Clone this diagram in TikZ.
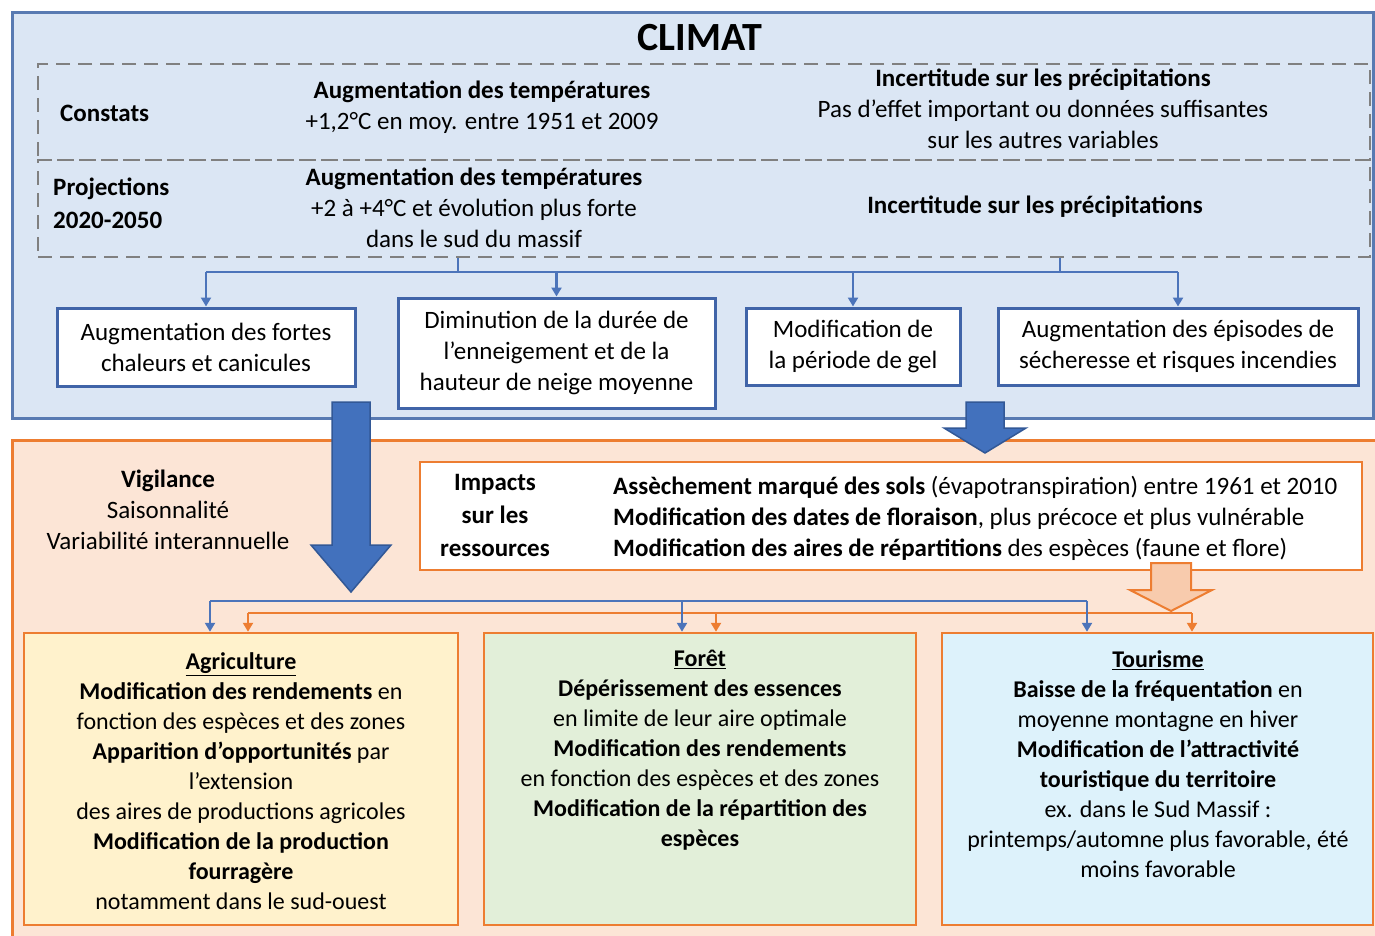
\documentclass[tikz,border=0pt]{standalone}
\usepackage{fontspec}
\setmainfont{Carlito}
\usetikzlibrary{arrows.meta}
\definecolor{bluefill}{RGB}{219,230,244}
\definecolor{blueedge}{RGB}{88,122,178}
\definecolor{boxedge}{RGB}{64,100,168}
\definecolor{arrowblue}{RGB}{66,113,189}
\definecolor{arrowedge}{RGB}{50,88,150}
\definecolor{lineblue}{RGB}{76,116,186}
\definecolor{orng}{RGB}{237,125,49}
\definecolor{peach}{RGB}{252,229,214}
\definecolor{lightorange}{RGB}{248,203,173}
\definecolor{agrifill}{RGB}{255,242,204}
\definecolor{forfill}{RGB}{226,239,217}
\definecolor{tourfill}{RGB}{221,242,251}
\definecolor{dashgray}{RGB}{128,128,128}
\begin{document}
\begin{tikzpicture}[x=1pt,y=-1pt,
  every node/.style={inner sep=0pt},
  txt/.style={font=\fontsize{25}{31}\selectfont, align=center},
  btxt/.style={font=\fontsize{24}{30}\selectfont, align=center},
  whitebox/.style={draw=boxedge, fill=white, line width=3pt, align=center, font=\fontsize{25}{31}\selectfont},
  dashbox/.style={draw=dashgray, dash pattern=on 14pt off 8pt, line width=2.5pt},
  sectorbox/.style={draw=orng, line width=2.5pt, minimum height=292pt},
  conn/.style={line width=2.5pt, draw=lineblue},
  oconn/.style={line width=2.5pt, draw=orng},
  arr/.style={-{Triangle[length=9pt,width=10pt]}}
]
\useasboundingbox (0,0) rectangle (1375,935);

% --- CLIMAT panel ---
\node[draw=blueedge, fill=bluefill, line width=3pt, minimum width=1361pt, minimum height=406pt] (climat) at (692.5,215) {};
\node[font=\bfseries\fontsize{40}{44}\selectfont] (title) at (700,38) {CLIMAT};
\node[dashbox, minimum width=1332pt, minimum height=96pt] (constats) at (704,112) {};
\node[dashbox, minimum width=1332pt, minimum height=97pt] (proj) at (704,208.5) {};

\node[txt, font=\bfseries\fontsize{25}{31}\selectfont, anchor=west] (lc) at (60,113) {Constats};
\node[txt] (ct) at (482,107) {\textbf{Augmentation des températures}\\+1,2°C en moy. entre 1951 et 2009};
\node[txt] (cp) at (1043,109) {\textbf{Incertitude sur les précipitations}\\Pas d’effet important ou données suffisantes\\sur les autres variables};
\node[txt, font=\bfseries\fontsize{25}{33}\selectfont, align=left, anchor=west] (lp) at (53,203) {Projections\\2020-2050};
\node[txt] (pt) at (474,208) {\textbf{Augmentation des températures}\\+2 à +4°C et évolution plus forte\\dans le sud du massif};
\node[txt] (pp) at (1035,207) {\textbf{Incertitude sur les précipitations}};

\node[whitebox, minimum width=298pt, minimum height=78pt] (b1) at (206,347) {Augmentation des fortes\\chaleurs et canicules};
\node[whitebox, minimum width=317pt, minimum height=110pt] (b2) at (556.5,353) {Diminution de la durée de\\l’enneigement et de la\\hauteur de neige moyenne};
\node[whitebox, minimum width=214pt, minimum height=77pt] (b3) at (853,346.5) {Modification de\\la période de gel};
\node[whitebox, minimum width=360pt, minimum height=77pt] (b4) at (1178,346.5) {Augmentation des épisodes de\\sécheresse et risques incendies};

\coordinate (j1) at (458,272);
\coordinate (j2) at (1060,272);
\draw[conn] (j1 |- proj.south) -- (j1);
\draw[conn] (j2 |- proj.south) -- (j2);
\draw[conn] (b1.north |- j1) -- (b4.north |- j1);
\foreach \b in {b1,b2,b3,b4} \draw[conn,arr] (\b.north |- j1) -- (\b.north);

% --- impacts panel ---
\node[draw=orng, fill=peach, line width=3pt, minimum width=1366pt, minimum height=497pt] (impacts) at (695,688.5) {};
\node[txt] (vig) at (168,510) {\textbf{Vigilance}\\Saisonnalité\\Variabilité interannuelle};

\node[draw=orng, fill=white, line width=2.5pt, minimum width=942pt, minimum height=108pt] (imp) at (891,516) {};
\node[txt, font=\bfseries\fontsize{25}{33}\selectfont] (impl) at (495,515) {Impacts\\sur les\\ressources};
\node[txt, align=left, anchor=west] (impt) at (613,518) {\textbf{Assèchement marqué des sols} (évapotranspiration) entre 1961 et 2010\\\textbf{Modification des dates de floraison}, plus précoce et plus vulnérable\\\textbf{Modification des aires de répartitions} des espèces (faune et flore)};

% big arrows
\draw[fill=arrowblue, draw=arrowedge, line width=1.5pt] (332,402) -- (370,402) -- (370,545) -- (391,545) -- (351,592) -- (311,545) -- (332,545) -- cycle;
\draw[fill=arrowblue, draw=arrowedge, line width=1.5pt] (966,402) -- (1004,402) -- (1004,428) -- (1026,428) -- (985,453) -- (944,428) -- (966,428) -- cycle;
\draw[fill=lightorange, draw=orng, line width=2pt] (1151,563) -- (1191,563) -- (1191,590) -- (1212,590) -- (1171,611) -- (1130,590) -- (1151,590) -- cycle;

% sector boxes
\node[sectorbox, fill=agrifill, minimum width=434pt] (agri) at (241,779) {};
\node[sectorbox, fill=forfill, minimum width=432pt] (foret) at (700,779) {};
\node[sectorbox, fill=tourfill, minimum width=431pt] (tour) at (1157.5,779) {};

\node[btxt] (agrit) at (241,781) {\textbf{\underline{Agriculture}}\\\textbf{Modification des rendements} en\\fonction des espèces et des zones\\\textbf{Apparition d’opportunités} par\\l’extension\\des aires de productions agricoles\\\textbf{Modification de la production}\\\textbf{fourragère}\\notamment dans le sud-ouest};
\node[btxt] (forett) at (700,750) {\textbf{\underline{Forêt}}\\\textbf{Dépérissement des essences}\\en limite de leur aire optimale\\\textbf{Modification des rendements}\\en fonction des espèces et des zones\\\textbf{Modification de la répartition des}\\\textbf{espèces}};
\node[btxt] (tourt) at (1158,764) {\textbf{\underline{Tourisme}}\\\textbf{Baisse de la fréquentation} en\\moyenne montagne en hiver\\\textbf{Modification de l’attractivité}\\\textbf{touristique du territoire}\\ex. dans le Sud Massif :\\printemps/automne plus favorable, été\\moins favorable};

% lower connectors
\coordinate (ab) at (210,601); \coordinate (fb) at (682,601); \coordinate (tb) at (1087,601);
\coordinate (ao) at (248,613); \coordinate (fo) at (716,613); \coordinate (to) at (1192,613);
\draw[oconn] (ao) -- (to);
\draw[oconn,arr] (ao) -- (ao |- agri.north);
\draw[oconn,arr] (fo) -- (fo |- foret.north);
\draw[oconn,arr] (to) -- (to |- tour.north);
\draw[conn] (ab) -- (tb);
\draw[conn,arr] (ab) -- (ab |- agri.north);
\draw[conn,arr] (fb) -- (fb |- foret.north);
\draw[conn,arr] (tb) -- (tb |- tour.north);
\end{tikzpicture}
\end{document}
